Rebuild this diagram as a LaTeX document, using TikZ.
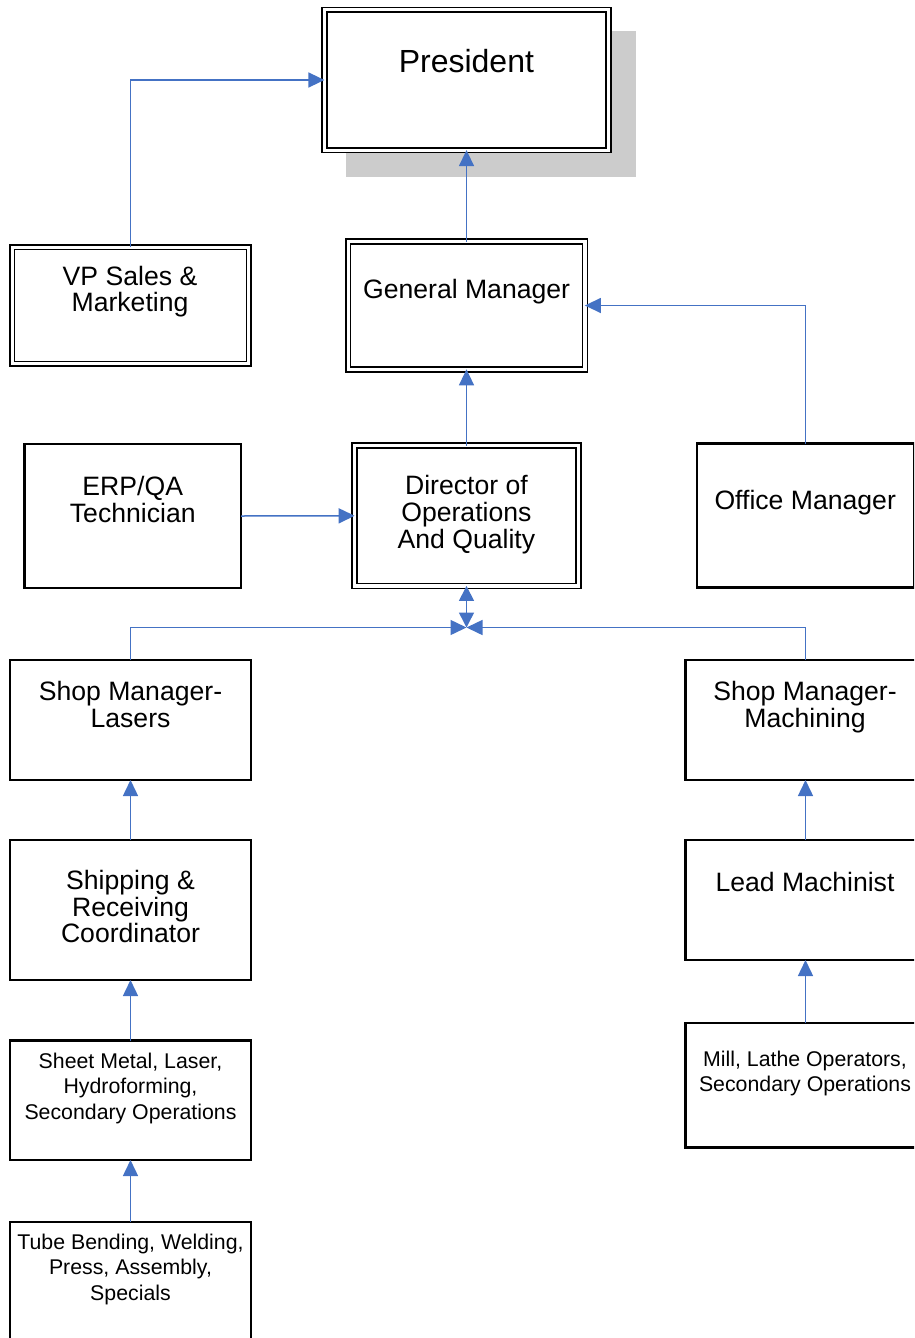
\documentclass[tikz,border=0pt]{standalone}
\usepackage{fontspec}
\setmainfont{Liberation Sans}
\usetikzlibrary{arrows.meta}
\definecolor{linkblue}{HTML}{4472C4}
\definecolor{shadowgray}{HTML}{CCCCCC}
\tikzset{
  sbox/.style={draw=black, line width=2.2pt, rectangle, inner sep=0pt, outer sep=0pt, fill=white},
  dbox/.style={draw=black, double=white, line width=1.6pt, double distance=3.2pt, rectangle, inner sep=0pt, outer sep=0pt},
  bigtxt/.style={font=\fontsize{32}{38}\selectfont, align=center, anchor=base, inner sep=0pt},
  medtxt/.style={font=\fontsize{26.6}{26.7}\selectfont, align=center, anchor=base, inner sep=0pt},
  smalltxt/.style={font=\fontsize{21.3}{25.5}\selectfont, align=center, anchor=base, inner sep=0pt},
  link/.style={draw=linkblue, line width=1.5pt, -{Triangle[length=16pt,width=15pt]}},
  dlink/.style={draw=linkblue, line width=1.5pt, {Triangle[length=15pt,width=15pt]}-{Triangle[length=15pt,width=15pt]}},
}
\begin{document}
\begin{tikzpicture}[x=1pt,y=-1pt]
\useasboundingbox (0,0) rectangle (914,1338);
\begin{scope}
\clip (0,0) rectangle (914,1338);
\fill[shadowgray] (345.5,31) rectangle (635.5,176.5);

% boxes
\node[dbox, fill=white, minimum width=284.2pt, minimum height=140.3pt] (pres) at (466.5,80) {};
\node[dbox, minimum width=236.5pt, minimum height=116.6pt] (vp) at (130.5,305.5) {};
\node[dbox, minimum width=236.8pt, minimum height=127.7pt] (gm) at (466.5,305.5) {};
\node[dbox, minimum width=223.7pt, minimum height=140.3pt] (dir) at (466.5,515.8) {};
\node[sbox, minimum width=216.5pt, minimum height=144pt] (erp) at (132.75,516) {};
\node[sbox, minimum width=216.3pt, minimum height=144pt] (office) at (805.5,515.5) {};
\node[sbox, minimum width=240.4pt, minimum height=120pt] (shopl) at (130.5,720) {};
\node[sbox, minimum width=240pt, minimum height=120pt] (shopm) at (805.5,720) {};
\node[sbox, minimum width=240.4pt, minimum height=140pt] (ship) at (130.5,910) {};
\node[sbox, minimum width=240pt, minimum height=120pt] (lead) at (805.5,900) {};
\node[sbox, minimum width=240.4pt, minimum height=119.5pt] (sheet) at (130.5,1100.25) {};
\node[sbox, minimum width=240pt, minimum height=124.5pt] (mill) at (805.5,1085.25) {};
\node[sbox, minimum width=240.4pt, minimum height=120pt] (tube) at (130.5,1282) {};

% texts (base anchor = baseline of the last line)
\node[bigtxt] (pres-t) at (466.4,72) {President};
\node[medtxt] (vp-t) at (130,311.7) {VP Sales \&\\Marketing};
\node[medtxt] (gm-t) at (466.6,298.3) {General Manager};
\node[medtxt] (erp-t) at (132.75,522.5) {ERP/QA\\Technician};
\node[medtxt] (dir-t) at (466.4,548.3) {Director of\\Operations\\And Quality};
\node[medtxt] (office-t) at (805.2,509) {Office Manager};
\node[medtxt] (shopl-t) at (130.5,727) {Shop Manager-\\Lasers};
\node[medtxt] (shopm-t) at (805,727) {Shop Manager-\\Machining};
\node[medtxt] (ship-t) at (130.5,942.7) {Shipping \&\\Receiving\\Coordinator};
\node[medtxt] (lead-t) at (805,891.7) {Lead Machinist};
\node[smalltxt] (sheet-t) at (130.5,1119) {Sheet Metal, Laser,\\Hydroforming,\\Secondary Operations};
\node[smalltxt] (mill-t) at (805,1091.7) {Mill, Lathe Operators,\\Secondary Operations};
\node[smalltxt] (tube-t) at (130.5,1300) {Tube Bending, Welding,\\Press, Assembly,\\Specials};

% connectors
\coordinate (junc) at (466.5,627.5);
\draw[link] (vp.north) |- (pres.west);
\draw[link] (gm.north) -- (pres.south);
\draw[link] (office.north) |- (gm.east);
\draw[link] (dir.north) -- (gm.south);
\draw[link] (erp.east) -- (dir.west);
\draw[link] (shopl.north) |- (junc);
\draw[link] (shopm.north) |- (junc);
\draw[dlink] (junc) -- (dir.south);
\draw[link] (ship.north) -- (shopl.south);
\draw[link] (sheet.north) -- (ship.south);
\draw[link] (tube.north) -- (sheet.south);
\draw[link] (lead.north) -- (shopm.south);
\draw[link] (mill.north) -- (lead.south);
\end{scope}
\end{tikzpicture}
\end{document}
